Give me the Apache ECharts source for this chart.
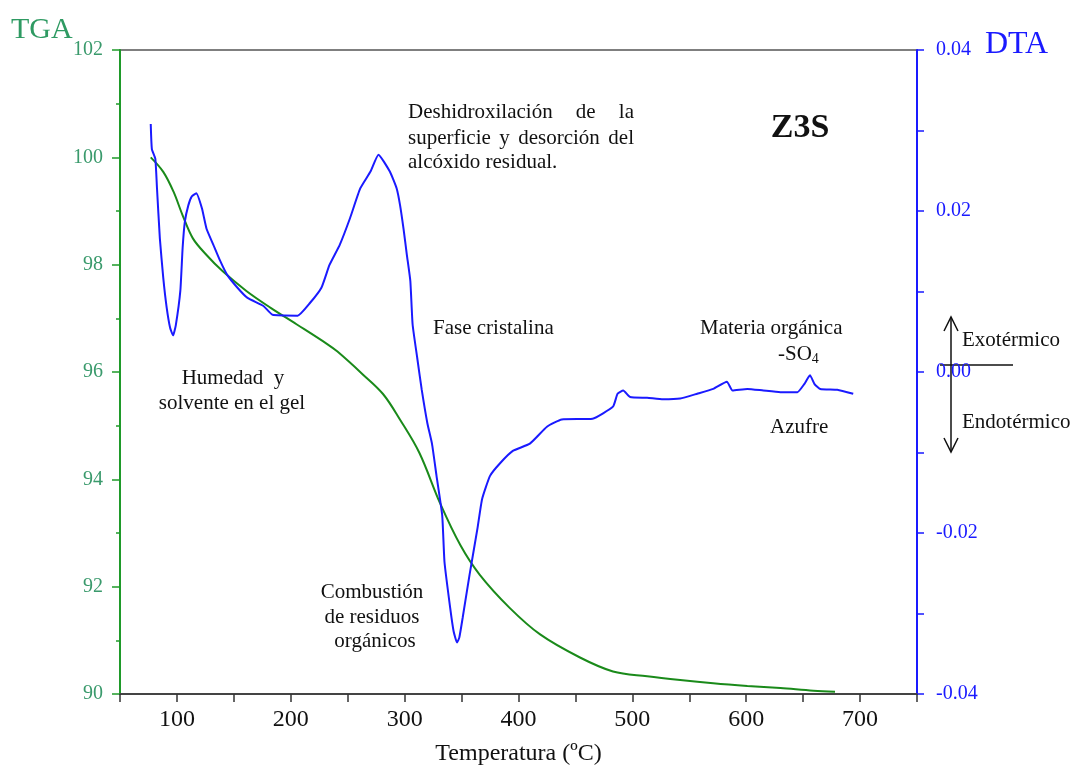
<!DOCTYPE html>
<html>
<head>
<meta charset="utf-8">
<script src="https://cdn.jsdelivr.net/npm/echarts@6/dist/echarts.min.js"></script>
<style>
  html, body { margin: 0; padding: 0; background: #ffffff; }
  #chart { width: 1072px; height: 771px; }
</style>
</head>
<body>
<div id="chart"></div>
<script>
// Thermogravimetric (TGA) and differential thermal (DTA) curves of sample Z3S

// TGA: temperature (ºC) and remaining mass (%)
const tgaTemp = [77, 88, 97, 105, 114, 126, 140, 161, 182, 205, 232, 241, 263, 281, 296, 313, 331, 349, 366, 392, 419, 454, 483, 513, 542, 571, 601, 630, 659, 678];
const tgaMass = [100.0, 99.73, 99.36, 98.92, 98.49, 98.18, 97.88, 97.51, 97.20, 96.89, 96.52, 96.38, 95.96, 95.59, 95.11, 94.49, 93.56, 92.77, 92.22, 91.61, 91.11, 90.68, 90.42, 90.33, 90.26, 90.20, 90.15, 90.11, 90.06, 90.04];

// DTA: temperature (ºC) and signal
const dtaTemp = [77, 78, 81, 82.5, 85, 88, 91, 94, 96.6, 99, 103, 105, 107, 110, 113, 117, 122, 126, 132, 138, 144, 153, 162, 176, 184, 206, 217, 227, 234, 243, 252, 261, 270, 277, 287, 293, 296, 299, 302, 305, 307, 311, 315, 320, 324, 328, 333, 335, 340, 343, 346, 348, 351, 357, 364, 368, 375, 384, 395, 410, 425, 438, 465, 483, 487, 492, 498, 513, 527, 542, 557, 571, 583, 588, 601, 615, 630, 645, 651, 656, 660, 665, 680, 694];
const dtaSignal = [0.0308, 0.0277, 0.0265, 0.0228, 0.0166, 0.0117, 0.0080, 0.0055, 0.00455, 0.0058, 0.0101, 0.0154, 0.0187, 0.0207, 0.0218, 0.0222, 0.0203, 0.0178, 0.0158, 0.0138, 0.0121, 0.0105, 0.0092, 0.0082, 0.0071, 0.0070, 0.0086, 0.0105, 0.0133, 0.0158, 0.0191, 0.0228, 0.0249, 0.0270, 0.0249, 0.0228, 0.0207, 0.0178, 0.0145, 0.0113, 0.0059, 0.0018, -0.0022, -0.0064, -0.0089, -0.0129, -0.0178, -0.0236, -0.0293, -0.0322, -0.0336, -0.0330, -0.0305, -0.0252, -0.0194, -0.0158, -0.0129, -0.0113, -0.0098, -0.0089, -0.0068, -0.0059, -0.0058, -0.0043, -0.0027, -0.0023, -0.0031, -0.0032, -0.0034, -0.0033, -0.0027, -0.0021, -0.0012, -0.0023, -0.0021, -0.0023, -0.0025, -0.0025, -0.0015, -0.0004, -0.0015, -0.0021, -0.0022, -0.0027];

// Axis ranges and labelled ticks
const tempRange = [50, 750];
const tempLabels = [100, 200, 300, 400, 500, 600, 700];
const tgaRange = [90, 102];
const dtaRange = [-0.04, 0.04];

const serif = '"Liberation Serif", "DejaVu Serif", serif';
const noteFont = '21px ' + serif;
const green = '#1f9a2a';
const greenLabel = '#3a9a6c';
const blue = '#1a1aff';

const zip = (a, b) => a.map((v, i) => [v, b[i]]);

const chart = echarts.init(document.getElementById('chart'), null, { renderer: 'canvas' });

// Plain annotation text; align defaults to left
const annot = (x, y, text, align) => ({
  type: 'text', x: x, y: y,
  style: { text: text, font: noteFont, fill: '#111', verticalAlign: 'middle', align: align || 'left' }
});

// Lay the words of one line out so they fill [x0, x1] exactly (justified text)
const measureCtx = document.createElement('canvas').getContext('2d');
function justified(x0, x1, y, line) {
  measureCtx.font = noteFont;
  const words = line.split(' ');
  const widths = words.map(w => measureCtx.measureText(w).width);
  const total = widths.reduce((s, w) => s + w, 0);
  const gap = (x1 - x0 - total) / (words.length - 1);
  let x = x0;
  return words.map((w, i) => {
    const el = annot(x, y, w);
    x += widths[i] + gap;
    return el;
  });
}

chart.setOption({
  backgroundColor: '#ffffff',
  animation: false,
  grid: {
    left: 120, right: 155, top: 50, bottom: 71,
    show: true, borderColor: '#555', borderWidth: 1.5, backgroundColor: '#ffffff'
  },
  xAxis: {
    type: 'value', min: tempRange[0], max: tempRange[1], interval: 50,
    name: 'Temperatura (ºC)', nameLocation: 'middle', nameGap: 48,
    nameTextStyle: { fontFamily: serif, fontSize: 24, color: '#111' },
    axisLine: { onZero: false, lineStyle: { color: '#444', width: 2 } },
    axisTick: { inside: false, length: 8, lineStyle: { color: '#333', width: 1.5 } },
    axisLabel: {
      fontFamily: serif, fontSize: 24, color: '#111', margin: 14,
      formatter: v => tempLabels.indexOf(v) >= 0 ? String(v) : ''
    },
    splitLine: { show: false }
  },
  yAxis: [
    {
      type: 'value', position: 'left', min: tgaRange[0], max: tgaRange[1], interval: 2,
      axisLine: { show: true, lineStyle: { color: green, width: 2 } },
      axisTick: { show: true, inside: false, length: 8, lineStyle: { color: green, width: 1.5 } },
      minorTick: { show: true, splitNumber: 2, length: 4, lineStyle: { color: green, width: 1.5 } },
      axisLabel: { fontFamily: serif, fontSize: 20, color: greenLabel, margin: 17 },
      splitLine: { show: false }
    },
    {
      type: 'value', position: 'right', min: dtaRange[0], max: dtaRange[1], interval: 0.01,
      axisLine: { show: true, lineStyle: { color: blue, width: 2 } },
      axisTick: { show: true, inside: false, length: 7, lineStyle: { color: blue, width: 1.5 } },
      axisLabel: {
        fontFamily: serif, fontSize: 20, color: blue, margin: 19,
        formatter: v => (Math.round(v * 100) % 2 === 0) ? v.toFixed(2) : ''
      },
      splitLine: { show: false }
    }
  ],
  series: [
    {
      name: 'TGA', type: 'line', yAxisIndex: 0, data: zip(tgaTemp, tgaMass),
      showSymbol: false, smooth: 0.35,
      lineStyle: { color: '#1a8a1a', width: 2 }, z: 3
    },
    {
      name: 'DTA', type: 'line', yAxisIndex: 1, data: zip(dtaTemp, dtaSignal),
      showSymbol: false, smooth: 0.15,
      lineStyle: { color: blue, width: 2 }, z: 4
    }
  ],
  graphic: [
    { type: 'text', x: 11, y: 30, style: { text: 'TGA', font: '30px ' + serif, fill: '#2e9a62', verticalAlign: 'middle' } },
    { type: 'text', x: 985, y: 45, style: { text: 'DTA', font: '32px ' + serif, fill: blue, verticalAlign: 'middle' } },
    { type: 'text', x: 800, y: 128, style: { text: 'Z3S', font: 'bold 34px ' + serif, fill: '#111', verticalAlign: 'middle', align: 'center' } },

    ...justified(408, 634, 112, 'Deshidroxilación de la'),
    ...justified(408, 634, 138, 'superficie y desorción del'),
    annot(408, 162, 'alcóxido residual.'),

    annot(433, 328, 'Fase cristalina'),

    annot(233, 378, 'Humedad  y', 'center'),
    annot(232, 403, 'solvente en el gel', 'center'),

    annot(372, 592, 'Combustión', 'center'),
    annot(372, 617, 'de residuos', 'center'),
    annot(375, 641, 'orgánicos', 'center'),

    annot(700, 328, 'Materia orgánica'),
    {
      type: 'text', x: 778, y: 354,
      style: {
        text: '-SO{s|4}', font: noteFont, fill: '#111', verticalAlign: 'middle',
        rich: { s: { font: '14px ' + serif, fill: '#111', padding: [10, 0, 0, 0] } }
      }
    },
    annot(770, 427, 'Azufre'),

    annot(962, 340, 'Exotérmico'),
    annot(962, 422, 'Endotérmico'),

    // Exo / endo direction marker
    { type: 'line', shape: { x1: 951, y1: 317, x2: 951, y2: 452 }, style: { stroke: '#111', lineWidth: 1.5 } },
    { type: 'polyline', shape: { points: [[944, 331], [951, 317], [958, 331]] }, style: { stroke: '#111', lineWidth: 1.5, fill: null } },
    { type: 'polyline', shape: { points: [[944, 438], [951, 452], [958, 438]] }, style: { stroke: '#111', lineWidth: 1.5, fill: null } },
    { type: 'line', shape: { x1: 940, y1: 365, x2: 1013, y2: 365 }, style: { stroke: '#111', lineWidth: 1.5 } }
  ]
});
</script>
</body>
</html>
